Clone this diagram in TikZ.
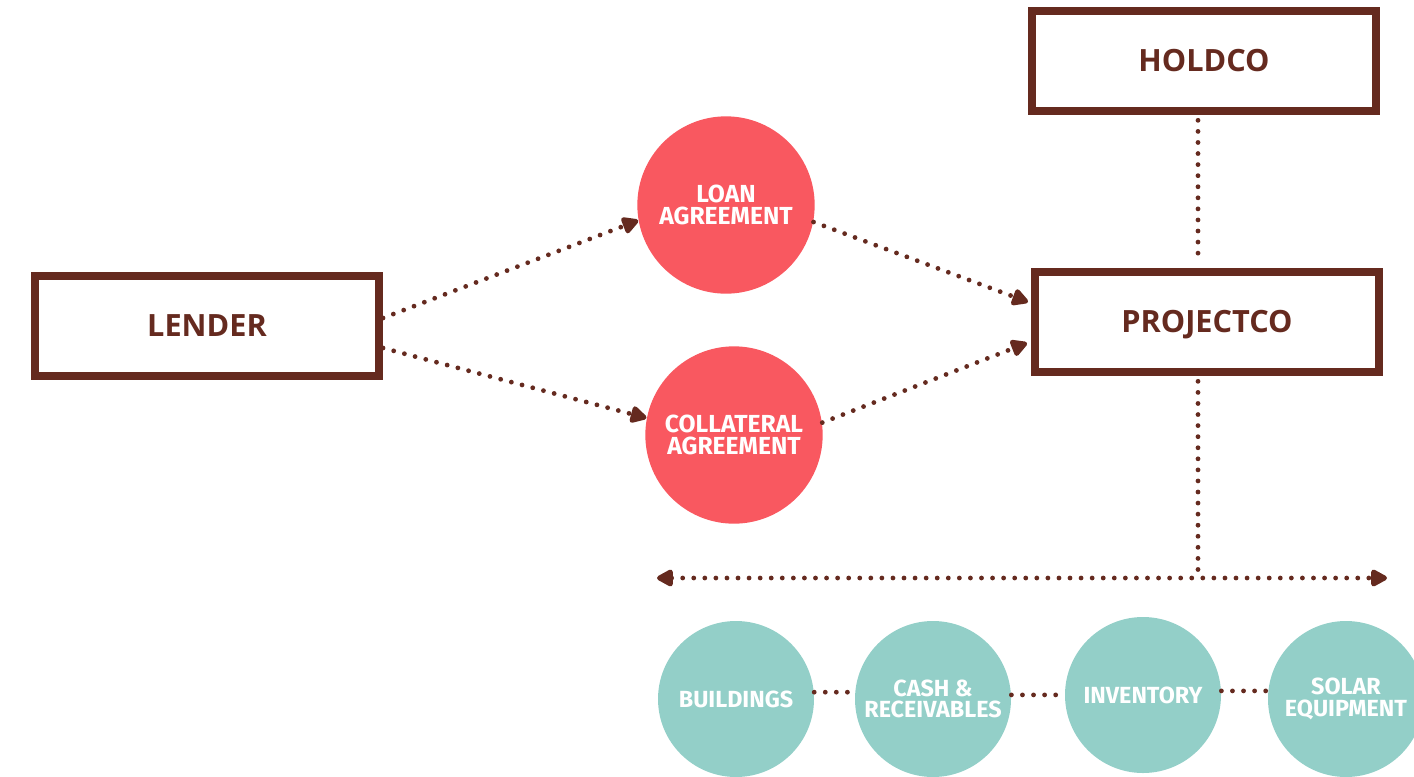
\documentclass[tikz,border=0pt]{standalone}
\usepackage{fontspec}
\usepackage{tikz}
\usetikzlibrary{calc}
\usetikzlibrary{arrows.meta}
\newfontfamily\boxfont{Open Sans}
\newfontfamily\circfont{Fira Sans}
\definecolor{brownline}{RGB}{101,42,31}
\definecolor{redfill}{RGB}{249,88,96}
\definecolor{tealfill}{RGB}{147,207,200}
\tikzset{every picture/.style={line width=0.75pt}}

\begin{document}
\begin{tikzpicture}[x=0.75pt,y=0.75pt,yscale=-1,xscale=1,
  entitybox/.style={draw=brownline, line width=6pt, fill=white, minimum width=258pt, minimum height=75pt, text height=16.4pt, text depth=0pt, text=brownline, font=\boxfont\bfseries\fontsize{23}{28}\selectfont},
  agreecirc/.style={circle, fill=redfill, minimum size=133pt, inner sep=0pt, align=center, text=white, font=\circfont\bfseries\fontsize{18.5}{16.5}\selectfont},
  assetcirc/.style={circle, fill=tealfill, minimum size=117pt, inner sep=0pt, align=center, text=white, font=\circfont\bfseries\fontsize{17.5}{16}\selectfont},
  dotline/.style={draw=brownline, line width=3.6pt, line cap=round, dash pattern=on 0pt off 8.3pt},
  dotarrow/.style={-{Triangle[length=14pt,width=14pt,round]}},
  dotboth/.style={{Triangle[length=14pt,width=14pt,round]}-{Triangle[length=14pt,width=14pt,round]}}
]
\useasboundingbox (0,0) rectangle (1414,776);
\clip (0,0) rectangle (1414,776);

%Shape: Rectangle [holdco]
\node[entitybox] (holdco) at (1204,61) {HOLDCO};
%Shape: Rectangle [lender]
\node[entitybox] (lender) at (207,326) {LENDER};
%Shape: Rectangle [projectco]
\node[entitybox] (projectco) at (1207,322) {PROJECTCO};

%Shape: Circle [agreements]
\node[agreecirc] (loan) at (726,205) {LOAN\\AGREEMENT};
\node[agreecirc] (collateral) at (734,435) {COLLATERAL\\AGREEMENT};

%Shape: Circle [assets]
\node[assetcirc] (buildings) at (736,699) {BUILDINGS};
\node[assetcirc] (cash) at (933,699) {CASH \&\\RECEIVABLES};
\node[assetcirc] (inventory) at (1143,695) {INVENTORY};
\node[assetcirc] (solar) at (1346,699) {SOLAR\\EQUIPMENT};

\coordinate (busL) at (657,578);
\coordinate (busR) at (1387,578);
\coordinate (rise) at ($(holdco.south)+(-6,0)$);
\coordinate (drop) at ($(projectco.south)+(-9,0)$);

%Straight Lines [lender to agreements]
\draw[dotline, dotarrow] ($(lender.east)+(0,-8)$) -- (loan.190);
\draw[dotline, dotarrow] ($(lender.east)+(0,22)$) -- (collateral.169);
%Straight Lines [agreements to projectco]
\draw[dotline, dotarrow] (loan.-11) -- ($(projectco.west)+(-3,-20)$);
\draw[dotline, dotarrow] (collateral.8) -- ($(projectco.west)+(-4,21)$);
%Straight Lines [holdco, projectco, assets]
\draw[dotline, shorten <=4pt, shorten >=4pt] (rise) -- (rise |- projectco.north);
\draw[dotline, shorten <=4pt] (drop) -- (drop |- busL);
\draw[dotline, dotboth] (busL) -- (busR);
\draw[dotline] (buildings.5) -- (buildings.5 -| cash.west);
\draw[dotline] (cash.3) -- (cash.3 -| inventory.west);
\draw[dotline] (inventory.3) -- (inventory.3 -| solar.west);

\end{tikzpicture}
\end{document}
